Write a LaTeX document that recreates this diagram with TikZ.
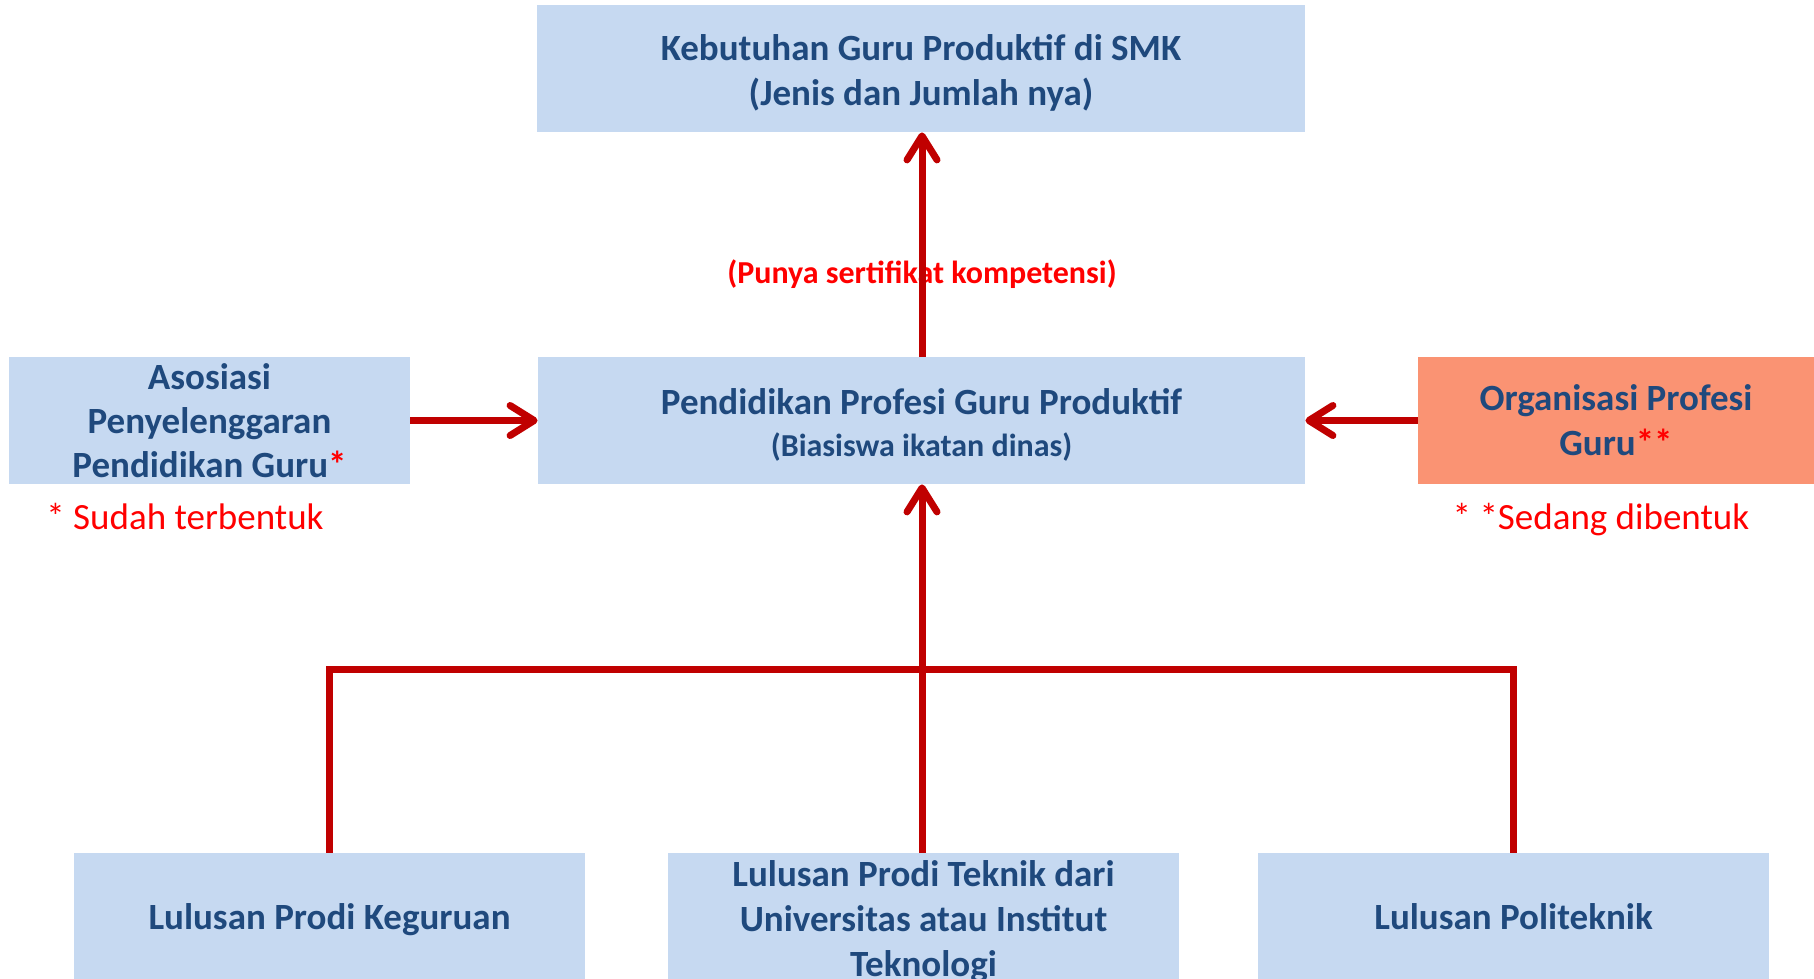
\documentclass[tikz,border=0pt]{standalone}
\usepackage{fontspec}
\setmainfont{Carlito}
\usetikzlibrary{arrows.meta}
\definecolor{boxblue}{HTML}{C6D9F1}
\definecolor{boxorange}{HTML}{FA9373}
\definecolor{txtblue}{HTML}{1F497D}
\definecolor{arrred}{HTML}{C00000}
\definecolor{notered}{HTML}{FF0000}
\tikzset{
  box/.style={fill=boxblue, draw=none, inner sep=0pt},
  btext/.style={inner sep=0pt, align=center, text=txtblue,
    font=\fontsize{18.5}{22.5}\selectfont\bfseries},
  conn/.style={draw=arrred, line width=3.5pt},
  arr/.style={conn, -{Straight Barb[length=12pt,width=15pt,line cap=round,line join=round]}},
  note/.style={text=notered, inner sep=0pt, anchor=base, font=\fontsize{18.5}{22.5}\selectfont}
}
\begin{document}
\begin{tikzpicture}[x=0.5pt,y=-0.5pt]
\useasboundingbox (0,0) rectangle (1814,979);
\clip (0,0) rectangle (1814,979);
% boxes
\node[box, minimum width=384pt, minimum height=63.5pt] (top) at (921,68.5) {};
\node[box, minimum width=383.5pt, minimum height=63.5pt] (mid) at (921.5,420.5) {};
\node[box, minimum width=200.5pt, minimum height=63.5pt] (left) at (209.5,420.5) {};
\node[box, fill=boxorange, minimum width=198pt, minimum height=63.5pt] (right) at (1616,420.5) {};
\node[box, minimum width=255.5pt, minimum height=64pt] (b1) at (329.5,917) {};
\node[box, minimum width=255.5pt, minimum height=64pt] (b2) at (923.5,917) {};
\node[box, minimum width=255.5pt, minimum height=64pt] (b3) at (1513.5,917) {};
% texts
\node[btext, yshift=-2.3pt] (ttop) at (top.center)
  {Kebutuhan Guru Produktif di SMK\\(Jenis dan Jumlah nya)};
\node[btext, yshift=-2pt] (tmid) at (mid.center)
  {Pendidikan Profesi Guru Produktif\\[-1.5pt]{\fontsize{16}{19}\selectfont(Biasiswa ikatan dinas)}};
\node[btext, font=\fontsize{18.5}{22}\selectfont\bfseries] (tleft) at (left.center)
  {Asosiasi\\Penyelenggaran\\Pendidikan Guru\textcolor{notered}{*}};
\node[btext] (tright) at (right.center)
  {Organisasi Profesi\\Guru\textcolor{notered}{**}};
\node[btext, yshift=-1.2pt] (tb1) at (b1.center) {Lulusan Prodi Keguruan};
\node[btext, yshift=-2.3pt] (tb2) at (b2.center)
  {Lulusan Prodi Teknik dari\\Universitas atau Institut\\Teknologi};
\node[btext] (tb3) at (b3.center) {Lulusan Politeknik};
\node[note] (n1) at (185,529) {* Sudah terbentuk};
\node[note] (n2) at (1601,529) {* *Sedang dibentuk};
\node[text=notered, inner sep=0pt, font=\fontsize{16}{19}\selectfont\bfseries] (lab) at (922,274)
  {(Punya sertifikat kompetensi)};
% connectors
\coordinate (j) at (922,669);
\draw[arr] (mid.north -| j) -- (top.south -| j);
\draw[arr] (left.east) -- (mid.west);
\draw[arr] (right.west) -- (mid.east);
\draw[conn] (b1.north) -- (b1.north |- j) -- (b3.north |- j) -- (b3.north);
\draw[arr] (b2.north -| j) -- (mid.south -| j);
\end{tikzpicture}
\end{document}
